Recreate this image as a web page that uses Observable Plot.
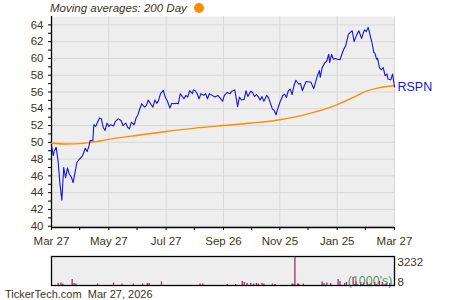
<!DOCTYPE html>
<html><head><meta charset="utf-8">
<script src="https://cdn.jsdelivr.net/npm/d3@7"></script>
<script src="https://cdn.jsdelivr.net/npm/@observablehq/plot@0.6"></script>
<style>
body{margin:0;background:#fff;font-family:"Liberation Sans",Arial,sans-serif;}
#wrap{position:relative;width:450px;height:300px;overflow:hidden;}
#wrap > *{position:absolute;}
#legend{left:50px;top:1px;font-size:11.5px;font-style:italic;color:#3d3520;white-space:nowrap;line-height:14px;}
#legend .dot{display:inline-block;width:10px;height:10px;border-radius:5px;background:#ff8c00;margin-left:7px;vertical-align:-1px;}
#footer{left:5px;top:287px;font-size:11px;color:#3d3520;line-height:14px;}
</style></head>
<body><div id="wrap">
<div id="legend">Moving averages: 200 Day<span class="dot"></span></div>
<div id="main" style="left:0;top:0"></div>
<div id="vol" style="left:0;top:248px"></div>
<div id="footer">TickerTech.com&nbsp; Mar 27, 2026</div>
</div>
<script>
const startDate = "2025-03-27";
const endDate = "2026-03-27";
const ticker = "RSPN";

// price series: day offsets from start date and closing prices
const dayOffsets = [0,2,3,5,7,9,11,13,15,17,19,21,23,25,27,29,33,36,38,40,41,44,45,47,49,51,53,55,57,59,61,63,66,68,71,74,76,79,81,83,85,88,90,92,94,96,99,101,103,106,108,110,112,114,116,119,121,123,126,128,130,133,135,137,141,143,145,147,150,151,153,155,157,159,162,164,166,168,171,174,177,180,182,184,187,190,192,195,197,198,200,202,205,207,209,212,214,216,218,220,222,224,226,229,231,233,235,237,239,241,243,246,248,250,252,254,256,258,260,263,265,267,269,271,274,276,279,281,283,285,286,288,291,293,295,296,298,300,302,304,307,309,311,313,316,318,320,322,324,326,327,330,332,333,335,337,339,341,343,344,346,347,349,351,353,355,357,358,361,363,365];
const prices = [49.6,48.4,49.0,49.4,47.8,45.05,43.1,47.0,45.8,46.95,46.2,45.9,45.2,46.4,47.6,47.9,48.4,49.3,48.9,49.6,50.2,50.2,52.1,51.9,52.4,52.9,52.8,51.8,51.4,52.3,51.9,52.1,51.95,52.5,52.8,52.6,52.0,52.3,51.8,51.6,52.4,52.1,52.9,53.3,54.0,54.6,54.2,54.4,55.05,54.5,54.2,55.05,54.65,55.0,55.8,56.2,55.4,55.0,54.1,54.65,54.6,54.65,54.6,55.8,55.2,55.6,55.4,56.15,55.8,56.25,56.15,55.8,55.2,55.8,55.6,55.8,55.2,55.8,55.6,55.4,55.6,55.2,54.9,55.6,55.95,55.8,56.1,56.25,55.0,54.25,55.4,55.05,55.1,56.15,55.45,56.1,55.95,55.45,55.7,55.45,55.05,55.45,54.9,55.6,55.3,54.65,54.0,53.8,53.3,54.1,54.75,55.55,55.75,55.35,56.15,56.35,55.7,56.75,57.4,56.95,57.0,56.15,56.75,57.25,57.2,57.2,56.4,57.15,57.95,58.55,57.75,58.9,59.5,59.7,60.5,59.5,60.5,59.9,60.0,59.9,59.85,60.5,61.1,61.5,62.9,63.1,63.3,62.0,62.6,63.1,63.3,62.4,63.1,63.4,63.2,63.7,62.8,61.9,60.7,60.65,59.9,60.0,58.9,58.65,58.9,57.95,58.15,57.55,57.45,58.15,56.6];

// 200-day moving average
const maDates = ["2025-03-27","2025-04-12","2025-04-27","2025-05-12","2025-05-27","2025-06-27","2025-07-27","2025-08-27","2025-09-26","2025-10-26","2025-11-25","2025-12-10","2025-12-25","2026-01-10","2026-01-25","2026-02-10","2026-02-25","2026-03-10","2026-03-27"];
const maValues = [49.9,49.8,49.85,50.05,50.35,50.85,51.3,51.7,52.0,52.3,52.7,53.0,53.4,53.9,54.5,55.3,56.1,56.5,56.75];

// volume (thousands)
const volOffsets = [7,10,12,22,24,26,49,66,75,87,97,102,104,117,158,161,187,196,203,205,208,212,215,218,220,224,226,235,238,256,257,259,262,263,268,288,290,293,297,305,307,312,314,321,324,329,332,336,340,344,349,352,356,360];
const volValues = [230,285,175,675,230,175,175,285,175,175,175,230,230,400,175,175,120,120,450,340,230,230,175,230,175,230,175,175,120,175,175,3232,175,175,175,400,230,285,230,675,450,230,340,900,450,340,285,340,230,340,450,340,230,230];
const volMax = 3232, volMin = 8;

// axis ticks
const xTickDates = ["2025-03-27","2025-05-27","2025-07-27","2025-09-26","2025-11-25","2026-01-25","2026-03-27"];
const xTickLabels = ["Mar 27","May 27","Jul 27","Sep 26","Nov 25","Jan 25","Mar 27"];
const xMinorDates = ["2025-04-26","2025-06-26","2025-08-26","2025-10-26","2025-12-25","2026-02-24"];
const yTicks = d3.range(40, 65, 1);
const yLabeled = d3.range(40, 65, 2);

const parse = d3.utcParse("%Y-%m-%d");
const start = parse(startDate), end = parse(endDate);
const priceData = dayOffsets.map((d, i) => ({date: d3.utcDay.offset(start, d), value: prices[i]}));
const maData = maDates.map((d, i) => ({date: parse(d), value: maValues[i]}));
const volData = volOffsets.map((d, i) => ({date: d3.utcDay.offset(start, d), value: volValues[i]}));
const xMajor = xTickDates.map(parse);
const xAll = xMajor.concat(xMinorDates.map(parse));
const labelMap = new Map(xMajor.map((d, i) => [+d, xTickLabels[i]]));

const textColor = "#3d3520";
const yDom = [39.85, 65];

const main = Plot.plot({
  width: 450, height: 254,
  marginLeft: 51, marginRight: 56, marginTop: 16, marginBottom: 27,
  style: {fontFamily: '"Liberation Sans", Arial, sans-serif', fontSize: "11.5px", color: textColor, background: "transparent", overflow: "visible"},
  x: {type: "utc", domain: [start, end], label: null},
  y: {domain: yDom, label: null},
  marks: [
    Plot.frame({fill: "#eeeeee", stroke: null}),
    Plot.gridY(yLabeled, {stroke: "#d8d8d8", strokeOpacity: 1, strokeWidth: 1}),
    Plot.gridX(xMajor, {stroke: "#d8d8d8", strokeOpacity: 1, strokeWidth: 1}),
    Plot.axisY(yTicks, {tickSize: 3, tickPadding: 5, stroke: "black", fill: textColor, label: null, tickFormat: d => d % 2 === 0 ? String(d) : ""}),
    Plot.axisX(xAll, {tickSize: 3, tickPadding: 6, stroke: "black", fill: textColor, label: null, tickFormat: d => labelMap.get(+d) || ""}),
    Plot.ruleX([start], {stroke: "black", strokeWidth: 1.3}),
    Plot.ruleY([yDom[0]], {stroke: "black", strokeWidth: 1.3}),
    Plot.line(maData, {x: "date", y: "value", stroke: "#ff8c00", strokeWidth: 1.4, curve: "monotone-x"}),
    Plot.line(priceData, {x: "date", y: "value", stroke: "#1515d6", strokeWidth: 1.1}),
    Plot.text(priceData.slice(-1), {x: "date", y: "value", text: () => ticker, textAnchor: "start", dx: 3, fill: "#1515d6", fontSize: 12.5})
  ]
});
document.getElementById("main").appendChild(main);

const vol = Plot.plot({
  width: 450, height: 40,
  marginLeft: 51, marginRight: 56, marginTop: 8, marginBottom: 3,
  style: {fontFamily: '"Liberation Sans", Arial, sans-serif', fontSize: "11.5px", color: textColor, background: "transparent", overflow: "visible"},
  x: {type: "utc", domain: [start, end], axis: null, label: null},
  y: {domain: [volMin, volMax], label: null},
  marks: [
    Plot.frame({fill: "#eeeeee", stroke: null}),
    Plot.ruleX(volData, {x: "date", y1: volMin, y2: "value", stroke: "#a0306a", strokeWidth: 1.3}),
    Plot.text(["(1000's)"], {frameAnchor: "bottom-right", dx: -2, dy: -1, fill: "#4f7f60", fillOpacity: 0.9, fontSize: 12.5}),
    Plot.frame({stroke: "black", strokeWidth: 1.3}),
    Plot.axisY([volMax], {anchor: "right", tickSize: 0, tickPadding: 3, dy: 6, fill: textColor, label: null, tickFormat: d => String(d)}),
    Plot.axisY([volMin], {anchor: "right", tickSize: 0, tickPadding: 3, dy: -3, fill: textColor, label: null, tickFormat: d => String(d)})
  ]
});
document.getElementById("vol").appendChild(vol);
</script>
</body></html>
